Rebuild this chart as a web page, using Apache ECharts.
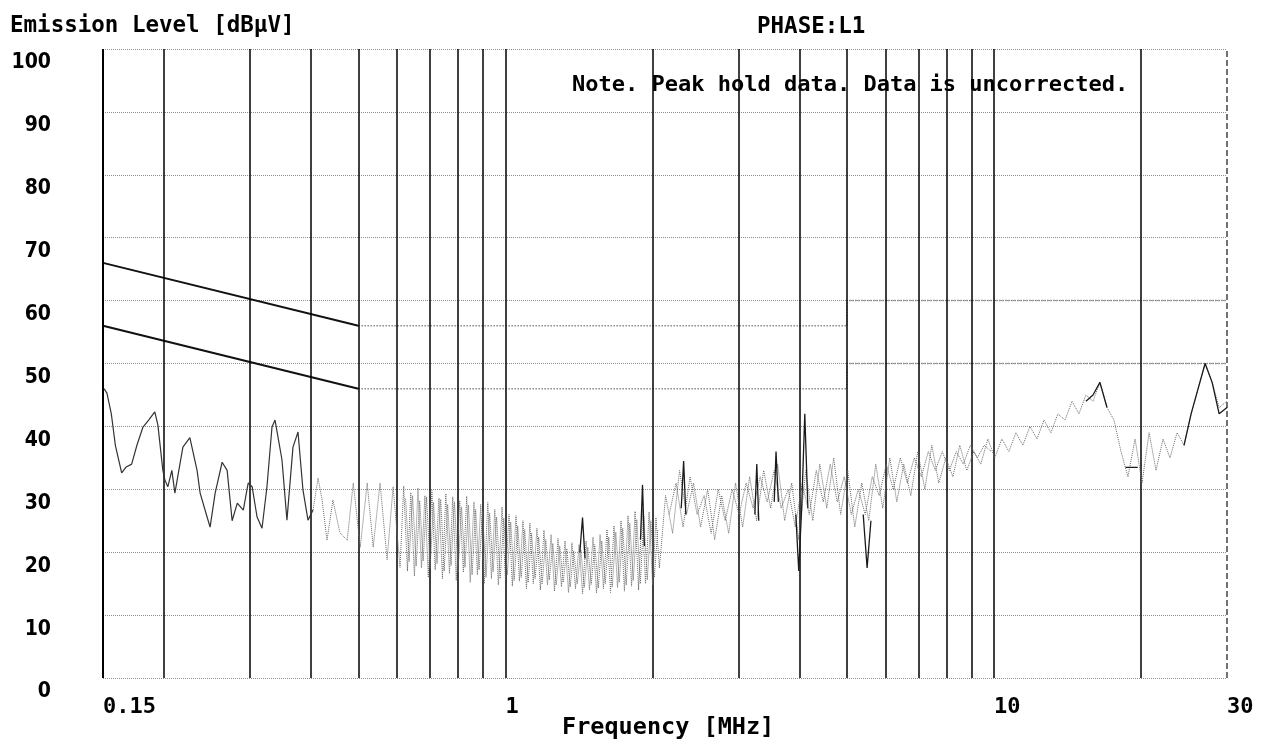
<!DOCTYPE html>
<html>
<head>
<meta charset="utf-8">
<title>Emission Level PHASE:L1</title>
<script src="https://cdn.jsdelivr.net/npm/echarts@6/dist/echarts.min.js"></script>
<style>
  html, body { margin: 0; padding: 0; background: #fff; }
  #chart { width: 1262px; height: 746px; }
</style>
</head>
<body>
<div id="chart"></div>
<script>
// axis ticks
const freqTickValues = [0.15, 1, 10, 30]
const freqTickLabels = ['0.15', '1', '10', '30']
const gridFreqs = [0.2, 0.3, 0.4, 0.5, 0.6, 0.7, 0.8, 0.9, 1, 2, 3, 4, 5, 6, 7, 8, 9, 10, 20]

// limit lines [MHz, dBuV]
const qpLimitSlope = [[0.15, 66], [0.5, 56]]
const avLimitSlope = [[0.15, 56], [0.5, 46]]
const qpLimitFlat = [[0.5, 56], [5, 56], [5, 60], [30, 60]]
const avLimitFlat = [[0.5, 46], [5, 46], [5, 50], [30, 50]]

// low band trace (dark)
const lowFreq = [0.1507, 0.1528, 0.156, 0.159, 0.1638, 0.167, 0.1717, 0.176, 0.1811, 0.186, 0.1915, 0.1943,
  0.1989, 0.2008, 0.2036, 0.2075, 0.2105, 0.2186, 0.2259, 0.2337, 0.2371, 0.2450, 0.2485, 0.2545, 0.2630,
  0.2693, 0.2757, 0.2825, 0.2906, 0.2974, 0.3030, 0.3101, 0.3174, 0.3249, 0.3327, 0.3375, 0.3487, 0.3570,
  0.3673, 0.3761, 0.3850, 0.3942, 0.4038]
const lowLevel = [46, 45.3, 42, 37, 32.6, 33.5, 34, 37, 39.9, 41, 42.3, 40.2,
  33, 31.5, 30.4, 33, 29.4, 36.7, 38.2, 33, 29.4, 25.6, 24, 29.4, 34.3,
  33, 25, 27.8, 26.7, 31, 30.4, 25.6, 23.8, 30.4, 39.9, 41, 34.7, 25.1,
  36.7, 39.1, 29.9, 25.1, 26.7]

// dense peak hold trace (grey)
const bandFreq = [0.4038, 0.4134, 0.4213, 0.4312, 0.4434, 0.4582, 0.4743, 0.4880, 0.5043, 0.5212, 0.5361,
  0.5537, 0.5724, 0.5888, 0.6084,
  0.619, 0.630, 0.640, 0.651, 0.662, 0.673, 0.684, 0.695, 0.707, 0.718, 0.731, 0.743, 0.755, 0.768, 0.780,
  0.793, 0.806, 0.820, 0.833, 0.847, 0.862, 0.876, 0.890, 0.905, 0.920, 0.936, 0.951, 0.967, 0.984, 1.000,
  1.017, 1.033, 1.051, 1.068, 1.086, 1.104, 1.122, 1.140, 1.160, 1.179, 1.199, 1.219, 1.240, 1.260, 1.281,
  1.302, 1.324, 1.346, 1.368, 1.391, 1.415, 1.438, 1.462, 1.486, 1.511, 1.536, 1.562, 1.587, 1.614, 1.641,
  1.668, 1.696, 1.724, 1.752, 1.782, 1.812, 1.842, 1.873, 1.904, 1.935, 1.968, 2.001, 2.033, 2.066,
  2.127, 2.199, 2.272, 2.348, 2.427, 2.509, 2.594, 2.681, 2.771, 2.864, 2.958, 3.059, 3.162, 3.267, 3.378,
  3.491, 3.608, 3.729, 3.855, 3.985, 4.118, 4.257, 4.400, 4.547, 4.699, 4.855, 5.020, 5.189, 5.363, 5.542,
  5.728, 5.921, 6.121, 6.326, 6.537, 6.758, 6.984, 7.220, 7.462, 7.710, 7.971, 8.240, 8.513, 8.799, 9.096,
  9.399, 9.717, 10.04, 10.38, 10.73, 11.09, 11.46, 11.85, 12.25, 12.66, 13.08, 13.52, 13.98, 14.45, 14.93,
  15.43, 15.95, 16.48, 17.04, 17.61, 18.20, 18.81, 19.45, 20.10, 20.78, 21.47, 22.19, 22.93, 23.71, 24.50,
  25.33, 26.18, 27.06, 27.97, 28.91, 30.0]
const bandLevel = [26.7, 31.8, 28.3, 21.9, 28.3, 23.1, 21.9, 31, 20.8, 31, 20.8,
  31, 18.8, 30.4, 17.6,
  30.5, 17.0, 29.5, 16.2, 30.2, 17.5, 29.0, 16.0, 29.8, 17.2, 28.6, 15.8, 29.3, 16.6, 28.8,
  15.5, 28.2, 16.8, 28.9, 15.2, 28.0, 16.4, 27.6, 15.0, 27.9, 15.8, 26.8, 14.8, 27.2, 15.6,
  26.0, 14.6, 25.8, 15.4, 25.0, 14.2, 24.6, 15.0, 23.8, 14.0, 23.5, 14.8, 22.8, 13.8, 22.2,
  14.5, 21.8, 13.6, 21.5, 14.2, 21.2, 13.4, 21.8, 14.0, 22.4, 13.5, 22.8, 14.2, 23.6, 13.6,
  24.2, 14.4, 25.0, 13.8, 25.8, 14.6, 26.5, 14.0, 27.0, 15.0, 26.4, 14.8, 25.5, 17.5,
  29, 23, 33, 26, 31, 24, 30, 22, 29, 23, 31, 24, 32, 25, 33,
  27, 34, 25, 31, 22, 33, 25, 34, 27, 35, 26, 33, 24, 31, 25,
  34, 27, 35, 28, 34, 29, 36, 30, 37, 31, 35, 32, 37, 33, 36,
  34, 38, 35, 38, 36, 39, 37, 40, 38, 41, 39, 42, 41, 44, 42,
  45, 44, 47, 43, 41, 36, 32, 38, 31, 39, 33, 38, 35, 39, 37,
  42, 46, 50, 47, 43, 44]

// second sweep of the dense part, read between the first one's points
const band2Freq = [0.6245, 0.635, 0.6455, 0.6565, 0.6675, 0.6785, 0.6895, 0.701, 0.7125, 0.7245, 0.737, 0.749,
  0.7615, 0.774, 0.7865, 0.7995, 0.813, 0.8265, 0.84, 0.8545, 0.869, 0.883, 0.8975, 0.9125, 0.928, 0.9435,
  0.959, 0.9755, 0.992, 1.0085, 1.025, 1.042, 1.0595, 1.077, 1.095, 1.113, 1.131, 1.15, 1.1695, 1.189, 1.209,
  1.2295, 1.25, 1.2705, 1.2915, 1.313, 1.335, 1.357, 1.3795, 1.403, 1.4265, 1.45, 1.474, 1.4985, 1.5235,
  1.549, 1.5745, 1.6005, 1.6275, 1.6545, 1.682, 1.71, 1.738, 1.767, 1.797, 1.827, 1.8575, 1.8885, 1.9195,
  1.9515, 1.9845, 2.017, 2.0495]
const band2Level = [28.5, 18.5, 29.0, 17.8, 28.2, 18.6, 28.8, 17.4, 27.9, 18.2, 28.4, 17.0,
  27.6, 17.9, 28.0, 16.8, 27.2, 17.6, 27.5, 16.4, 26.8, 17.2, 26.5, 16.0, 26.2, 16.9,
  25.6, 15.8, 25.4, 16.4, 24.8, 15.5, 24.2, 16.0, 23.6, 15.2, 23.0, 15.8, 22.4, 15.0, 22.0,
  15.6, 21.4, 14.8, 21.0, 15.2, 20.6, 14.5, 20.2, 15.0, 20.4, 14.4, 20.8, 14.9, 21.2,
  14.3, 21.8, 15.0, 22.4, 14.5, 23.2, 15.2, 23.8, 14.8, 24.6, 15.5, 25.2, 15.0, 25.8,
  15.6, 25.0, 16.0, 23.5]

const band3Freq = [2.163, 2.235, 2.31, 2.387, 2.468, 2.551, 2.637, 2.726, 2.817, 2.911, 3.008, 3.11, 3.214,
  3.322, 3.434, 3.549, 3.668, 3.792, 3.92, 4.051, 4.187, 4.328, 4.473, 4.623, 4.777, 4.937, 5.104, 5.276,
  5.452, 5.635, 5.824, 6.02, 6.223, 6.431, 6.647, 6.87, 7.101, 7.34, 7.585, 7.84, 8.104, 8.376, 8.655,
  8.947, 9.246, 9.556, 9.878]
const band3Level = [26, 31, 24, 32, 26, 29, 23, 30, 25, 30, 26, 31, 27,
  32, 28, 33, 27, 30, 24, 31, 26, 33, 28, 34, 28, 32, 26, 30,
  26, 32, 29, 34, 30, 35, 31, 35, 32, 36, 33, 36, 33, 36, 34,
  37, 35, 37, 36]

// dark spikes on top of the dense trace, null breaks the line
const spikeFreq = [1.42, 1.438, 1.455, 1.455, 1.89, 1.908, 1.925, 1.925, 2.29, 2.316, 2.34, 2.34,
  3.24, 3.27, 3.30, 3.30, 3.55, 3.58, 3.62, 3.62, 3.93, 3.985, 4.04, 4.10, 4.16, 4.16,
  5.40, 5.50, 5.60, 5.60, 15.43, 15.95, 16.48, 17.04, 17.04, 18.6, 19.7, 19.7,
  24.5, 25.33, 26.18, 27.06, 27.97, 28.91, 30]
const spikeLevel = [20, 25.5, 19, null, 22, 30.7, 21, null, 27, 34.5, 26, null,
  26, 34, 25, null, 28, 36, 28, null, 26, 17, 27, 42, 27, null,
  26, 17.5, 25, null, 44, 45, 47, 43, null, 33.5, 33.5, null,
  37, 42, 46, 50, 47, 42, 43]

const FONT = "'DejaVu Sans Mono', 'Liberation Mono', monospace"
const NARROW = "'DejaVu Sans Condensed', 'DejaVu Sans', sans-serif"

const zip = (xs, ys) => xs.map((x, i) => [x, ys[i]])

const tickLabel = (value) => {
  let idx = freqTickValues.findIndex(t => Math.abs(value - t) / t < 1e-6)
  return idx >= 0 ? freqTickLabels[idx] : ''
}

const traceSeries = (name, data, style, z) => ({
  name: name,
  type: 'line',
  data: data,
  symbol: 'none',
  connectNulls: false,
  lineStyle: style,
  z: z
})

const getOption = () => {
  let limitDark = { color: '#111', width: 2 }
  let limitGrey = { color: '#888', width: 1.5, type: 'dotted' }
  let dense = { color: '#6a6a6a', width: 1, type: 'dotted' }
  let textStyle = { fontFamily: FONT, fontSize: 22.5, fontWeight: 'bold', color: '#000' }

  return {
    backgroundColor: '#fff',
    animation: false,
    title: [
      { text: 'Emission Level [dBμV]', left: 10, top: 15, padding: 0, textStyle: textStyle },
      { text: 'PHASE:L1', left: 757, top: 16, padding: 0, textStyle: textStyle },
      { text: 'Note. Peak hold data. Data is uncorrected.', left: 572, top: 74, padding: 0,
        textStyle: { ...textStyle, fontSize: 22 } },
      // x axis name, placed by hand so the label layout does not push it
      { text: 'Frequency [MHz]', left: 562, top: 716, padding: 0,
        textStyle: { ...textStyle, fontSize: 23.5 } }
    ],
    grid: { left: 103, right: 35, top: 49, bottom: 68, containLabel: false, outerBoundsMode: 'none' },
    xAxis: {
      type: 'log',
      logBase: 10,
      min: 0.15,
      max: 30,
      axisLine: { show: false },
      axisTick: { show: false },
      splitLine: { show: false },
      axisLabel: {
        customValues: freqTickValues,
        formatter: tickLabel,
        align: 'left',
        margin: 18,
        fontFamily: FONT, fontSize: 22, fontWeight: 'bold', color: '#000'
      }
    },
    yAxis: {
      type: 'value',
      min: 0,
      max: 100,
      interval: 10,
      axisLine: { show: false },
      axisTick: { show: false },
      splitLine: { show: true, lineStyle: { color: '#8c8c8c', width: 1, type: 'dotted' } },
      axisLabel: {
        margin: 52,
        formatter: v => '\n' + v,
        lineHeight: 28,
        verticalAlign: 'middle',
        fontFamily: NARROW, fontSize: 21, fontWeight: 'bold', color: '#000'
      }
    },
    series: [
      {
        name: 'grid',
        type: 'line',
        data: [],
        silent: true,
        markLine: {
          silent: true,
          symbol: 'none',
          animation: false,
          label: { show: false },
          lineStyle: { color: '#000', width: 1.5, type: 'solid' },
          data: [
            ...gridFreqs.map(f => ({ xAxis: f })),
            { xAxis: 0.15, lineStyle: { color: '#000', width: 2, type: 'solid' } },
            { xAxis: 30, lineStyle: { color: '#444', width: 1.5, type: 'dashed' } }
          ]
        }
      },
      traceSeries('QP limit', qpLimitFlat, limitGrey, 3),
      traceSeries('AV limit', avLimitFlat, limitGrey, 3),
      traceSeries('QP limit slope', qpLimitSlope, limitDark, 4),
      traceSeries('AV limit slope', avLimitSlope, limitDark, 4),
      traceSeries('peak dense', zip(bandFreq, bandLevel), dense, 5),
      traceSeries('peak dense 2', zip(band2Freq, band2Level), dense, 5),
      traceSeries('peak dense 3', zip(band3Freq, band3Level), dense, 5),
      traceSeries('peak low', zip(lowFreq, lowLevel), { color: '#333', width: 1.2 }, 6),
      traceSeries('peak spikes', zip(spikeFreq, spikeLevel), { color: '#1a1a1a', width: 1.3 }, 6)
    ]
  }
}

const initChart = () => {
  const chart = echarts.init(document.getElementById('chart'), null, { renderer: 'canvas' })
  chart.setOption(getOption())
}

window.addEventListener('load', () => {
  initChart()
})
</script>
</body>
</html>
